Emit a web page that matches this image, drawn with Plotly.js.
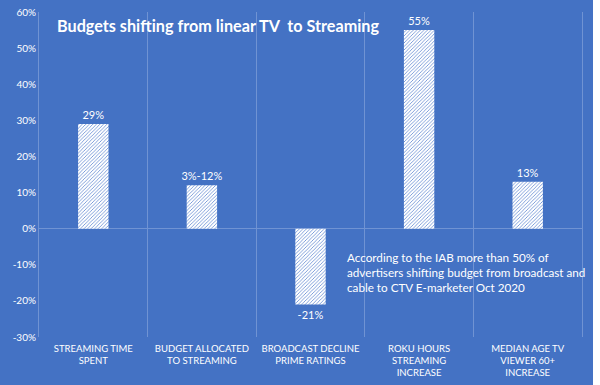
<!DOCTYPE html>
<html>
<head>
<meta charset="utf-8">
<script src="https://cdn.plot.ly/plotly-3.0.1.min.js"></script>
<style>
html,body{margin:0;padding:0;background:#ffffff;}
#chart{width:593px;height:385px;}
</style>
</head>
<body>
<div id="chart"></div>
<script>
const categories = ["STREAMING TIME<br>SPENT", "BUDGET ALLOCATED<br>TO STREAMING", "BROADCAST DECLINE<br>PRIME RATINGS", "ROKU HOURS<br>STREAMING<br>INCREASE", "MEDIAN AGE TV<br>VIEWER 60+<br>INCREASE"];
const values = [29, 12, -21, 55, 13];
const valueLabels = ["29%", "3%-12%", "-21%", "55%", "13%"];
const yTickValues = [-30, -20, -10, 0, 10, 20, 30, 40, 50, 60];
const yTickLabels = ["-30%", "-20%", "-10%", "0%", "10%", "20%", "30%", "40%", "50%", "60%"];
const titleText = "Budgets shifting from linear TV  to Streaming";
const noteText = "According to the IAB more than 50% of<br>advertisers shifting budget from broadcast and<br>cable to CTV E-marketer Oct 2020";

const bg = "#4472C4";
const grid = "#7093d3";
const font = "Lato, 'Open Sans', sans-serif";

const trace = {
  type: "bar",
  x: categories,
  y: values,
  text: valueLabels,
  textposition: "outside",
  texttemplate: "%{text}",
  constraintext: "none",
  textfont: {family: font, size: 11, color: "#ffffff"},
  cliponaxis: false,
  width: 0.28,
  marker: {
    color: "#ffffff",
    line: {width: 0},
    pattern: {shape: "/", fgcolor: "#6f93d6", bgcolor: "#ffffff", size: 2.5, solidity: 0.35}
  },
  hoverinfo: "none"
};

const layout = {
  width: 593,
  height: 385,
  margin: {l: 39, r: 11, t: 12, b: 48},
  paper_bgcolor: bg,
  plot_bgcolor: bg,
  showlegend: false,
  font: {family: font, color: "#ffffff"},
  xaxis: {
    type: "category",
    tickson: "boundaries",
    showgrid: true,
    gridcolor: grid,
    gridwidth: 1,
    ticks: "",
    showline: false,
    zeroline: false,
    ticklabelstandoff: 4,
    tickfont: {family: font, size: 9.5, color: "#ffffff"},
    range: [-0.5, 4.5]
  },
  yaxis: {
    range: [-30, 60],
    tickvals: yTickValues,
    ticktext: yTickLabels,
    showgrid: false,
    zeroline: true,
    zerolinecolor: grid,
    zerolinewidth: 1,
    ticks: "",
    showline: true,
    linecolor: grid,
    linewidth: 1,
    mirror: true,
    tickfont: {family: font, size: 10, color: "#ffffff"}
  },
  annotations: [{
    text: titleText,
    xref: "paper", yref: "paper",
    x: (217.5 - 39) / 543, y: (337 - 25) / 325,
    xanchor: "center", yanchor: "middle",
    align: "left",
    showarrow: false,
    font: {family: font, size: 16.2, weight: "bold", color: "#ffffff"}
  }, {
    text: noteText,
    xref: "paper", yref: "paper",
    x: 0.5635, y: 0.275,
    xanchor: "left", yanchor: "top",
    align: "left",
    showarrow: false,
    font: {family: font, size: 11.7, color: "#ffffff"}
  }]
};

Plotly.newPlot("chart", [trace], layout, {displayModeBar: false, staticPlot: true});
</script>
</body>
</html>
